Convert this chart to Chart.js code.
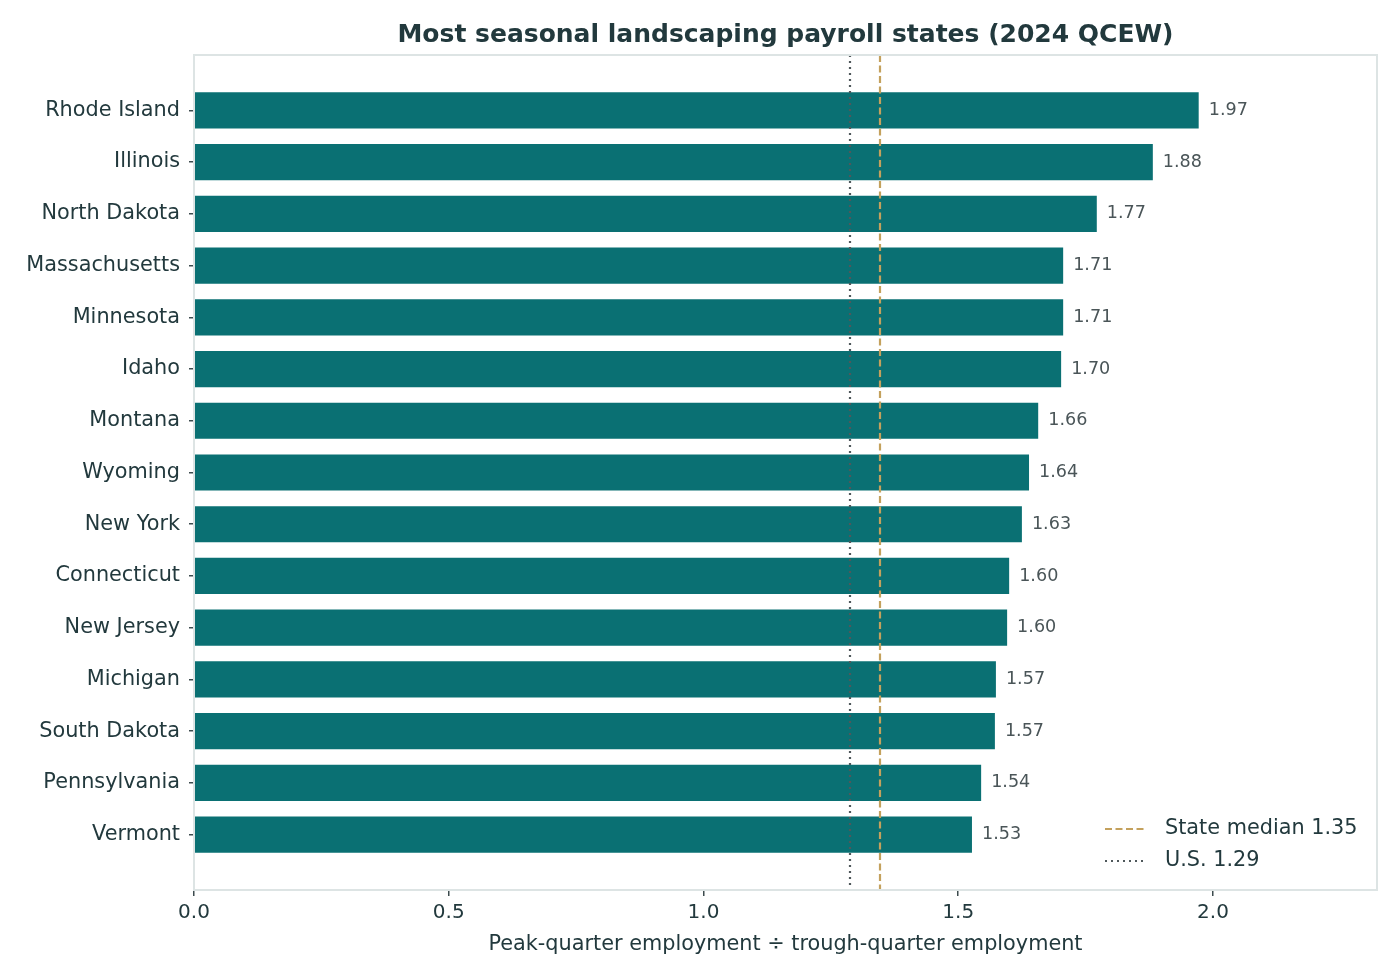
<!DOCTYPE html>
<html>
<head>
<meta charset="utf-8">
<script src="https://cdn.jsdelivr.net/npm/chart.js@4/dist/chart.umd.min.js"></script>
<style>
  html, body { margin: 0; padding: 0; background: #fff; }
  #wrap { width: 1400px; height: 980px; }
</style>
</head>
<body>
<div id="wrap"><canvas id="canvas"></canvas></div>
<script>
"use strict"

const states = ['Rhode Island', 'Illinois', 'North Dakota', 'Massachusetts', 'Minnesota', 'Idaho',
    'Montana', 'Wyoming', 'New York', 'Connecticut', 'New Jersey', 'Michigan', 'South Dakota',
    'Pennsylvania', 'Vermont'];
const ratios = [1.972, 1.882, 1.772, 1.706, 1.706, 1.702, 1.657, 1.639, 1.625, 1.600, 1.596,
    1.574, 1.572, 1.545, 1.527];
const xTicks = [0, 0.5, 1.0, 1.5, 2.0];
const refValues = [1.347, 1.288];
const refLabels = ['State median 1.35', 'U.S. 1.29'];

const ink = '#22393d';
const frame = '#dde4e4';
const teal = '#0a7073';
const refColors = ['#c4a15d', '#4f585b'];
const refDash = [[7, 3.5], [2, 4]];
const font = 'DejaVu Sans';

// reference lines, value labels, frame and legend
const extras = {
    id: 'extras',
    afterDatasetsDraw(chart) {
        let ctx = chart.ctx;
        let a = chart.chartArea;
        let xs = chart.scales.x;
        let meta = chart.getDatasetMeta(0);

        ctx.save();
        ctx.font = '17.6px "' + font + '"';
        ctx.fillStyle = '#4a5558';
        ctx.textAlign = 'left';
        ctx.textBaseline = 'middle';
        meta.data.forEach((bar, i) => {
            ctx.fillText(ratios[i].toFixed(2), bar.x + 10, bar.y);
        });

        ctx.lineWidth = 2.2;
        refValues.forEach((v, i) => {
            let px = Math.round(xs.getPixelForValue(v));
            ctx.strokeStyle = refColors[i];
            ctx.setLineDash(refDash[i]);
            ctx.beginPath();
            ctx.moveTo(px, a.top);
            ctx.lineTo(px, a.bottom);
            ctx.stroke();
        });

        ctx.setLineDash([]);
        ctx.strokeStyle = frame;
        ctx.lineWidth = 2;
        ctx.strokeRect(a.left, a.top, a.right - a.left, a.bottom - a.top);

        // legend in lower right corner
        ctx.font = '20.8px "' + font + '"';
        ctx.fillStyle = ink;
        let lx = a.right - 272;
        refLabels.forEach((t, i) => {
            let ly = a.bottom - 61 + i * 32;
            ctx.strokeStyle = refColors[i];
            ctx.setLineDash(refDash[i]);
            ctx.lineWidth = 2.2;
            ctx.beginPath();
            ctx.moveTo(lx, ly);
            ctx.lineTo(lx + 42, ly);
            ctx.stroke();
            ctx.fillText(t, lx + 60, ly);
        });
        ctx.restore();
    }
};

let ctx = document.getElementById('canvas').getContext('2d');
let myChart = new Chart(ctx, {
    type: 'bar',
    data: {
        datasets: [{
            data: ratios.map((v, i) => ({ x: v, y: i })),
            backgroundColor: teal,
            borderWidth: 0,
            barPercentage: 0.7,
            categoryPercentage: 1.0
        }]
    },
    options: {
        indexAxis: 'y',
        responsive: true,
        maintainAspectRatio: false,
        animation: false,
        devicePixelRatio: 1,
        layout: { padding: { left: 0, right: 23, top: 0, bottom: 23 } },
        plugins: {
            legend: { display: false },
            tooltip: { enabled: false },
            title: {
                display: true,
                fullSize: false,
                text: 'Most seasonal landscaping payroll states (2024 QCEW)',
                color: ink,
                font: { family: font, size: 25, weight: 'bold', lineHeight: 1.2 },
                padding: { top: 20, bottom: 5 }
            }
        },
        scales: {
            x: {
                type: 'linear',
                min: 0,
                max: 2.322,
                afterBuildTicks: (s) => { s.ticks = xTicks.map(v => ({ value: v })); },
                afterFit: (s) => { s.height = 67; },
                grid: { drawOnChartArea: false, drawTicks: true, tickLength: 6, color: '#3d4b4e', lineWidth: 1.5 },
                border: { color: frame, width: 2 },
                ticks: {
                    color: ink,
                    padding: 5,
                    font: { family: font, size: 20 },
                    callback: (v) => Number(v).toFixed(1)
                },
                title: {
                    display: true,
                    text: 'Peak-quarter employment ÷ trough-quarter employment',
                    color: ink,
                    font: { family: font, size: 20.8, lineHeight: 1.2 },
                    padding: { top: 0, bottom: 0 }
                }
            },
            y: {
                type: 'linear',
                reverse: true,
                offset: false,
                min: -1.07,
                max: 15.07,
                afterBuildTicks: (s) => { s.ticks = states.map((_, i) => ({ value: i })); },
                afterFit: (s) => { s.width = 194; },
                grid: { offset: false, drawOnChartArea: false, drawTicks: true, tickLength: 5, color: '#3d4b4e', lineWidth: 1.5 },
                border: { color: frame, width: 2 },
                ticks: {
                    color: ink,
                    padding: 9,
                    autoSkip: false,
                    font: { family: font, size: 20.8 },
                    callback: (v) => states[v]
                }
            }
        }
    },
    plugins: [extras]
});
</script>
</body>
</html>
